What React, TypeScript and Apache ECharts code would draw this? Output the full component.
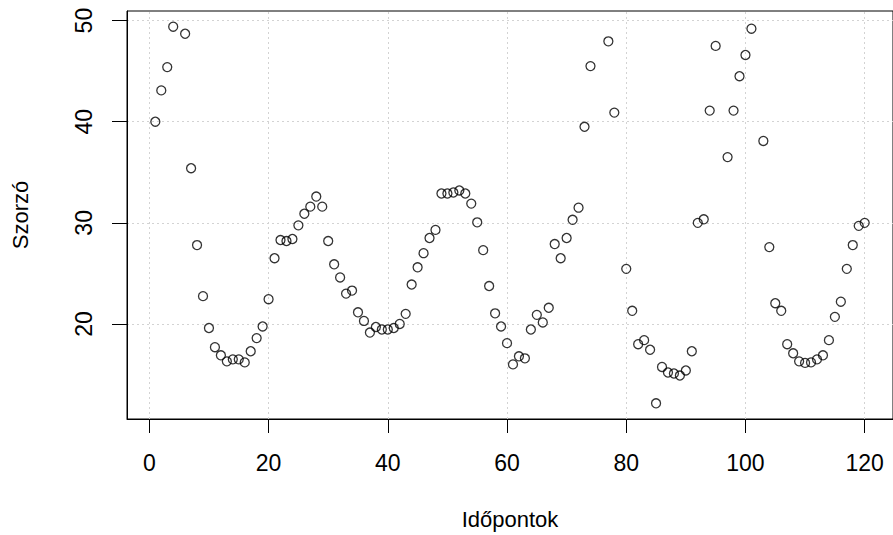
import React, { useEffect, useRef } from "react";
import * as echarts from "echarts";

const xTicks = [0, 20, 40, 60, 80, 100, 120];
const yTicks = [20, 30, 40, 50];
const xName = "Időpontok";
const yName = "Szorzó";

// Szorzó values at time points 1..120 (null = missing)
const values: (number | null)[] = [
  40.0, 43.1, 45.4, 49.4, null, 48.7, 35.4, 27.8, 22.75, 19.6,
  17.7, 16.9, 16.3, 16.5, 16.5, 16.2, 17.3, 18.6, 19.75, 22.45,
  26.5, 28.3, 28.2, 28.4, 29.75, 30.9, 31.6, 32.6, 31.6, 28.2,
  25.9, 24.6, 23.0, 23.3, 21.15, 20.3, 19.15, 19.7, 19.45, 19.45,
  19.6, 20.0, 21.0, 23.9, 25.6, 27.0, 28.5, 29.3, 32.9, 32.9,
  33.0, 33.2, 32.9, 31.9, 30.05, 27.3, 23.75, 21.05, 19.75, 18.1,
  16.0, 16.8, 16.6, 19.45, 20.9, 20.15, 21.6, 27.9, 26.5, 28.5,
  30.3, 31.5, 39.5, 45.5, null, null, 47.95, 40.9, null, 25.45,
  21.3, 18.0, 18.4, 17.45, 12.15, 15.75, 15.2, 15.1, 14.9, 15.4,
  17.3, 30.0, 30.35, 41.1, 47.5, null, 36.5, 41.1, 44.5, 46.6,
  49.2, null, 38.1, 27.6, 22.05, 21.3, 18.0, 17.1, 16.3, 16.15,
  16.2, 16.5, 16.9, 18.4, 20.7, 22.2, 25.45, 27.8, 29.7, 30.0,
];

const FONT = "'Liberation Sans', Arial, sans-serif";

export default function App() {
  const ref = useRef<HTMLDivElement>(null);
  useEffect(() => {
    if (!ref.current) return;
    const chart = echarts.init(ref.current, null, { renderer: "svg" });
    const points: [number, number][] = [];
    values.forEach((v, i) => {
      if (v !== null) points.push([i + 1, v]);
    });
    const gridStyle = { color: "#d3d3d3", width: 1, type: [2, 3] as number[] };
    chart.setOption({
      animation: false,
      backgroundColor: "#ffffff",
      grid: {
        left: 127,
        right: -5,
        top: 11,
        bottom: 112,
        show: true,
        borderColor: "#000",
        borderWidth: 1,
        backgroundColor: "transparent",
      },
      xAxis: {
        type: "value",
        min: -3.75,
        max: 124.75,
        name: xName,
        nameLocation: "middle",
        nameGap: 89,
        nameTextStyle: { fontFamily: FONT, fontSize: 22, color: "#000" },
        axisLine: { show: true, onZero: false, lineStyle: { color: "#000", width: 1 } },
        axisTick: { show: true, inside: false, length: 14, customValues: xTicks, lineStyle: { color: "#000", width: 1 } },
        axisLabel: { show: true, margin: 32, customValues: xTicks, fontFamily: FONT, fontSize: 23, color: "#000" },
        splitLine: { show: false },
      },
      yAxis: {
        type: "value",
        min: 10.6,
        max: 50.95,
        name: yName,
        nameLocation: "middle",
        nameGap: 96,
        nameRotate: 90,
        nameTextStyle: { fontFamily: FONT, fontSize: 22, color: "#000" },
        axisLine: { show: true, onZero: false, lineStyle: { color: "#000", width: 1 } },
        axisTick: { show: true, inside: false, length: 15, customValues: yTicks, lineStyle: { color: "#000", width: 1 } },
        axisLabel: { show: true, rotate: 90, margin: 32, customValues: yTicks, fontFamily: FONT, fontSize: 23, color: "#000" },
        splitLine: { show: false },
      },
      series: [
        {
          type: "scatter",
          data: points,
          symbol: "circle",
          symbolSize: 9,
          itemStyle: { color: "rgba(0,0,0,0)", borderColor: "#000", borderWidth: 1.3 },
          silent: true,
          markLine: {
            silent: true,
            symbol: ["none", "none"],
            label: { show: false },
            lineStyle: gridStyle,
            z: 0,
            data: [
              ...xTicks.map((t) => ({ xAxis: t })),
              ...yTicks.map((t) => ({ yAxis: t })),
            ],
          },
          z: 3,
        },
      ],
    });
    return () => chart.dispose();
  }, []);
  return (
    <div
      ref={ref}
      style={{ position: "fixed", left: 0, top: 0, width: 893, height: 535, background: "#fff" }}
    />
  );
}
